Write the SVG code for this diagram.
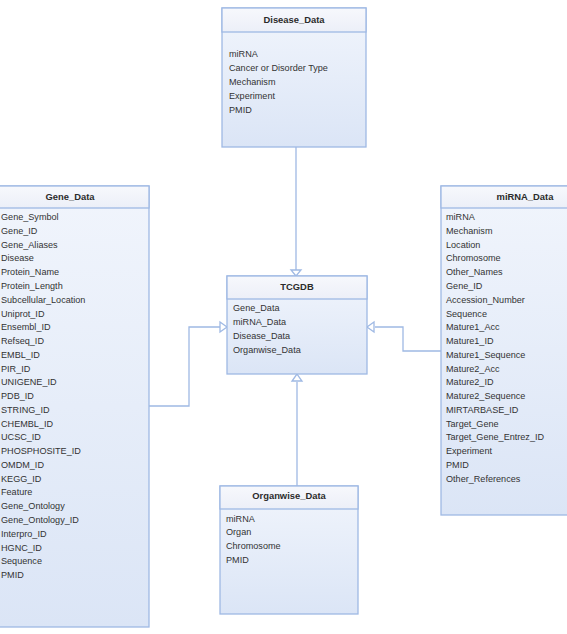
<svg xmlns="http://www.w3.org/2000/svg" width="567" height="634" viewBox="0 0 567 634">
<defs>
<linearGradient id="hdr" x1="0" y1="0" x2="0" y2="1">
<stop offset="0" stop-color="#f7f8fc"/>
<stop offset="1" stop-color="#eceff8"/>
</linearGradient>
<linearGradient id="body" x1="0" y1="0" x2="0" y2="1">
<stop offset="0" stop-color="#f1f5fc"/>
<stop offset="1" stop-color="#dbe5f6"/>
</linearGradient>
</defs>
<style>
.box{fill:url(#body);stroke:#9fb9e4;stroke-width:1.3}
.hd{fill:url(#hdr);stroke:#9fb9e4;stroke-width:1.3}
.t{font-family:"Liberation Sans",Arial,sans-serif;font-size:9.4px;font-weight:bold;fill:#2b2b2b;text-anchor:middle}
.i{font-family:"Liberation Sans",Arial,sans-serif;font-size:9.1px;fill:#333}
.ln{fill:none;stroke:#9fb9e4;stroke-width:1.3}
.ah{fill:#ffffff;stroke:#9fb9e4;stroke-width:1.3}
</style>
<rect width="567" height="634" fill="#ffffff"/>

<g id="connectors">
<path class="ln" d="M296,147 V270"/>
<path class="ln" d="M149,406 H189 V327 H220"/>
<path class="ln" d="M441,351 H403 V327 H375"/>
<path class="ln" d="M297,486 V382"/>
<polygon class="ah" points="296,276 291,270 301,270"/>
<polygon class="ah" points="227,327 220,322 220,332"/>
<polygon class="ah" points="367,327 374,322 374,332"/>
<polygon class="ah" points="297,374 292,381 302,381"/>
</g>

<g id="disease_data">
<rect class="box" x="222" y="8" width="144" height="139"/>
<rect class="hd" x="222" y="8" width="144" height="24"/>
<text class="t" x="294" y="23">Disease_Data</text>
<text class="i" x="229" y="57">miRNA</text>
<text class="i" x="229" y="71">Cancer or Disorder Type</text>
<text class="i" x="229" y="85">Mechanism</text>
<text class="i" x="229" y="99">Experiment</text>
<text class="i" x="229" y="113">PMID</text>
</g>

<g id="gene_data">
<rect class="box" x="-8" y="186" width="157" height="441"/>
<rect class="hd" x="-8" y="186" width="157" height="22"/>
<text class="t" x="70" y="200">Gene_Data</text>
<text class="i" x="1" y="220">Gene_Symbol</text>
<text class="i" x="1" y="234">Gene_ID</text>
<text class="i" x="1" y="248">Gene_Aliases</text>
<text class="i" x="1" y="261">Disease</text>
<text class="i" x="1" y="275">Protein_Name</text>
<text class="i" x="1" y="289">Protein_Length</text>
<text class="i" x="1" y="303">Subcellular_Location</text>
<text class="i" x="1" y="317">Uniprot_ID</text>
<text class="i" x="1" y="330">Ensembl_ID</text>
<text class="i" x="1" y="344">Refseq_ID</text>
<text class="i" x="1" y="358">EMBL_ID</text>
<text class="i" x="1" y="372">PIR_ID</text>
<text class="i" x="1" y="385">UNIGENE_ID</text>
<text class="i" x="1" y="399">PDB_ID</text>
<text class="i" x="1" y="413">STRING_ID</text>
<text class="i" x="1" y="427">CHEMBL_ID</text>
<text class="i" x="1" y="440">UCSC_ID</text>
<text class="i" x="1" y="454">PHOSPHOSITE_ID</text>
<text class="i" x="1" y="468">OMDM_ID</text>
<text class="i" x="1" y="482">KEGG_ID</text>
<text class="i" x="1" y="495">Feature</text>
<text class="i" x="1" y="509">Gene_Ontology</text>
<text class="i" x="1" y="523">Gene_Ontology_ID</text>
<text class="i" x="1" y="537">Interpro_ID</text>
<text class="i" x="1" y="551">HGNC_ID</text>
<text class="i" x="1" y="564">Sequence</text>
<text class="i" x="1" y="578">PMID</text>
</g>

<g id="mirna_data">
<rect class="box" x="441" y="186" width="168" height="329"/>
<rect class="hd" x="441" y="186" width="168" height="22"/>
<text class="t" x="525" y="200">miRNA_Data</text>
<text class="i" x="446" y="220">miRNA</text>
<text class="i" x="446" y="234">Mechanism</text>
<text class="i" x="446" y="248">Location</text>
<text class="i" x="446" y="261">Chromosome</text>
<text class="i" x="446" y="275">Other_Names</text>
<text class="i" x="446" y="289">Gene_ID</text>
<text class="i" x="446" y="303">Accession_Number</text>
<text class="i" x="446" y="317">Sequence</text>
<text class="i" x="446" y="330">Mature1_Acc</text>
<text class="i" x="446" y="344">Mature1_ID</text>
<text class="i" x="446" y="358">Mature1_Sequence</text>
<text class="i" x="446" y="372">Mature2_Acc</text>
<text class="i" x="446" y="385">Mature2_ID</text>
<text class="i" x="446" y="399">Mature2_Sequence</text>
<text class="i" x="446" y="413">MIRTARBASE_ID</text>
<text class="i" x="446" y="427">Target_Gene</text>
<text class="i" x="446" y="440">Target_Gene_Entrez_ID</text>
<text class="i" x="446" y="454">Experiment</text>
<text class="i" x="446" y="468">PMID</text>
<text class="i" x="446" y="482">Other_References</text>
</g>

<g id="tcgdb">
<rect class="box" x="227" y="276" width="140" height="98"/>
<rect class="hd" x="227" y="276" width="140" height="23"/>
<text class="t" x="297" y="290">TCGDB</text>
<text class="i" x="233" y="311">Gene_Data</text>
<text class="i" x="233" y="325">miRNA_Data</text>
<text class="i" x="233" y="339">Disease_Data</text>
<text class="i" x="233" y="353">Organwise_Data</text>
</g>

<g id="organwise_data">
<rect class="box" x="220" y="486" width="138" height="128"/>
<rect class="hd" x="220" y="486" width="138" height="23"/>
<text class="t" x="289" y="499">Organwise_Data</text>
<text class="i" x="226" y="522">miRNA</text>
<text class="i" x="226" y="535">Organ</text>
<text class="i" x="226" y="549">Chromosome</text>
<text class="i" x="226" y="563">PMID</text>
</g>
</svg>
